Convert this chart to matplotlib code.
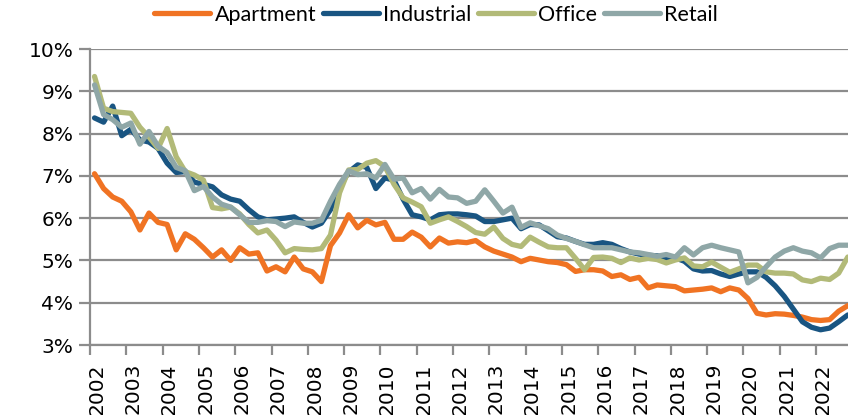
import matplotlib
matplotlib.use("Agg")
import matplotlib.pyplot as plt
import numpy as np

start_year = 2002
years = list(range(2002, 2023))

apartment = [7.05, 6.70, 6.50, 6.40, 6.15, 5.72, 6.12, 5.90, 5.85, 5.25, 5.63, 5.50,
             5.30, 5.08, 5.25, 5.00, 5.30, 5.15, 5.18, 4.75, 4.85, 4.73, 5.08, 4.80,
             4.73, 4.50, 5.35, 5.65, 6.08, 5.77, 5.95, 5.84, 5.90, 5.50, 5.50, 5.67,
             5.55, 5.32, 5.53, 5.41, 5.44, 5.42, 5.47, 5.32, 5.22, 5.15, 5.08, 4.97,
             5.05, 5.01, 4.97, 4.95, 4.90, 4.74, 4.78, 4.78, 4.75, 4.62, 4.66, 4.55,
             4.60, 4.35, 4.42, 4.40, 4.38, 4.28, 4.30, 4.32, 4.35, 4.26, 4.35, 4.30,
             4.10, 3.75, 3.71, 3.74, 3.73, 3.70, 3.66, 3.60, 3.58, 3.60, 3.80, 3.93]

industrial = [8.37, 8.27, 8.65, 7.95, 8.10, 7.85, 7.80, 7.65, 7.30, 7.08, 7.10, 6.85,
              6.80, 6.74, 6.55, 6.45, 6.40, 6.20, 6.03, 5.96, 5.98, 6.00, 6.03, 5.90,
              5.79, 5.88, 6.20, 6.74, 7.09, 7.26, 7.20, 6.70, 6.95, 6.90, 6.45, 6.08,
              6.03, 5.96, 6.08, 6.10, 6.10, 6.08, 6.05, 5.92, 5.92, 5.96, 6.00, 5.75,
              5.85, 5.84, 5.70, 5.56, 5.53, 5.45, 5.38, 5.38, 5.42, 5.38, 5.28, 5.20,
              5.15, 5.12, 5.11, 5.07, 5.06, 4.98, 4.80, 4.75, 4.76, 4.68, 4.62, 4.68,
              4.73, 4.73, 4.60, 4.40, 4.15, 3.85, 3.55, 3.42, 3.36, 3.40, 3.55, 3.71]

office = [9.35, 8.60, 8.52, 8.50, 8.48, 8.15, 7.92, 7.65, 8.12, 7.45, 7.10, 7.02,
          6.90, 6.25, 6.22, 6.26, 6.10, 5.85, 5.65, 5.72, 5.48, 5.18, 5.28, 5.26,
          5.25, 5.28, 5.60, 6.60, 7.14, 7.15, 7.30, 7.36, 7.22, 6.80, 6.48, 6.38,
          6.27, 5.88, 5.96, 6.03, 5.92, 5.80, 5.66, 5.62, 5.79, 5.52, 5.38, 5.33,
          5.55, 5.43, 5.32, 5.30, 5.30, 5.05, 4.78, 5.07, 5.08, 5.05, 4.95, 5.06,
          5.01, 5.05, 5.02, 4.94, 5.01, 5.06, 4.87, 4.85, 4.96, 4.84, 4.72, 4.80,
          4.89, 4.89, 4.73, 4.70, 4.70, 4.68, 4.54, 4.50, 4.58, 4.55, 4.70, 5.08]

retail = [9.15, 8.45, 8.33, 8.15, 8.25, 7.75, 8.05, 7.70, 7.55, 7.20, 7.12, 6.65,
          6.75, 6.50, 6.33, 6.26, 6.08, 5.90, 5.90, 5.94, 5.92, 5.80, 5.91, 5.88,
          5.88, 5.95, 6.40, 6.80, 7.12, 7.03, 7.05, 6.95, 7.27, 6.92, 6.95, 6.60,
          6.70, 6.45, 6.68, 6.50, 6.48, 6.35, 6.40, 6.67, 6.40, 6.12, 6.26, 5.78,
          5.89, 5.82, 5.75, 5.60, 5.52, 5.45, 5.37, 5.30, 5.30, 5.30, 5.25, 5.20,
          5.18, 5.14, 5.10, 5.14, 5.08, 5.30, 5.13, 5.30, 5.36, 5.30, 5.25, 5.20,
          4.47, 4.60, 4.85, 5.08, 5.22, 5.30, 5.22, 5.18, 5.06, 5.28, 5.36, 5.36]

series_names = ["Apartment", "Industrial", "Office", "Retail"]
series_values = [apartment, industrial, office, retail]
colors = ["#F07323", "#195582", "#B2BA78", "#8FA7A7"]

y_ticks = [3, 4, 5, 6, 7, 8, 9, 10]
y_labels = ["3%", "4%", "5%", "6%", "7%", "8%", "9%", "10%"]

n = len(apartment)
x = start_year + (np.arange(n) + 0.5) / 4.0

fig = plt.figure(figsize=(8.48, 4.15), dpi=100)
W, H = 848, 415
left, right = 90, 852.3
top, bottom = 49, 345
ax = fig.add_axes([left / W, (H - bottom) / H, (right - left) / W, (bottom - top) / H])

grid_color = "#8C8C8C"
for yt in y_ticks:
    ax.axhline(yt, color=grid_color, lw=1.6, zorder=1)

lines = []
for name, vals, c in zip(series_names, series_values, colors):
    ln, = ax.plot(x, vals, color=c, lw=3.8, label=name, solid_joinstyle="round",
                  solid_capstyle="round", zorder=3)
    lines.append(ln)

ax.set_xlim(2002, 2023)
ax.set_ylim(3, 10)

ax.set_yticks(y_ticks)
ax.set_yticklabels(y_labels, fontsize=14.5, family="DejaVu Sans")

# year boundary ticks (unlabelled) and labels slightly right of each tick
ax.set_xticks(years)
ax.set_xticklabels([])
ax.set_xticks([y + 0.19 for y in years], minor=True)
ax.set_xticklabels([str(y) for y in years], minor=True, rotation=90, fontsize=14.5,
                   family="DejaVu Sans", va="top", ha="center")

ax.tick_params(axis="y", length=8, width=1.6, color=grid_color, pad=4)
ax.tick_params(axis="x", which="major", length=7, width=1.6, color=grid_color)
ax.tick_params(axis="x", which="minor", length=0, pad=13)

for s in ["top", "right"]:
    ax.spines[s].set_visible(False)
ax.spines["left"].set_color(grid_color)
ax.spines["left"].set_linewidth(1.6)
ax.spines["bottom"].set_color(grid_color)
ax.spines["bottom"].set_linewidth(1.6)
ax.patch.set_alpha(0)

leg = fig.legend(handles=lines, labels=series_names, loc="center",
                 bbox_to_anchor=(436 / W, 1 - 15 / H), ncol=4, frameon=False,
                 prop={"family": "Lato", "size": 15.5}, handlelength=2.6,
                 handletextpad=0.2, columnspacing=0.3, borderpad=0)

fig.savefig("out.png", dpi=100)
